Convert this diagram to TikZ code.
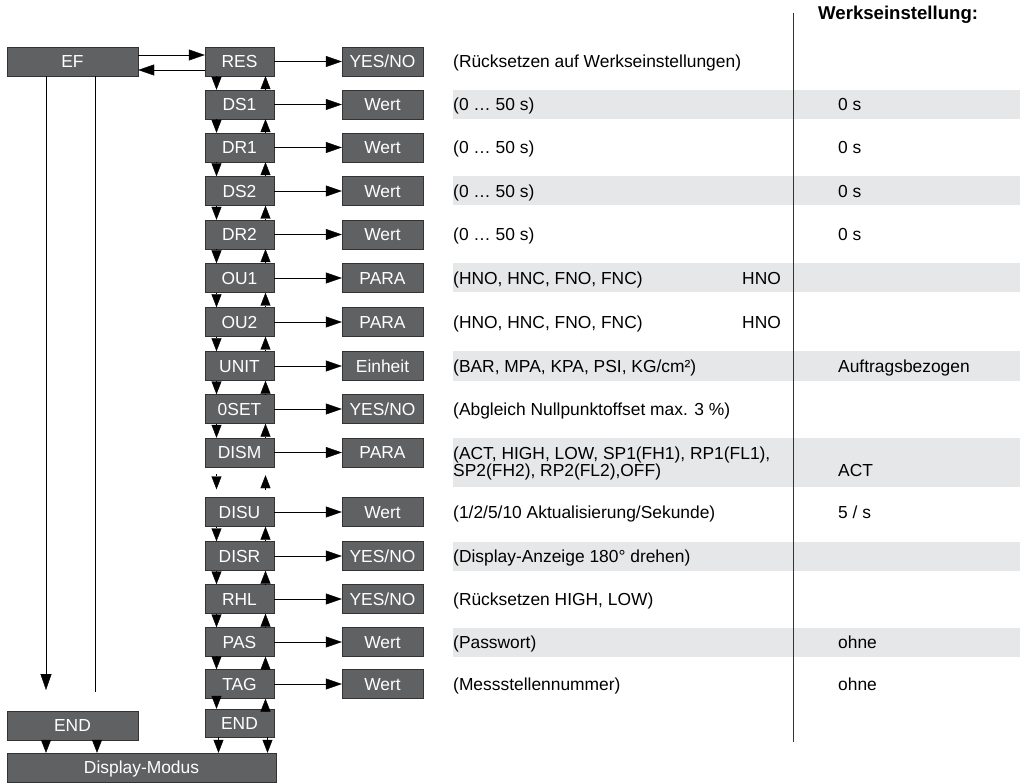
\documentclass[tikz,border=0pt]{standalone}
\usepackage{fontspec}
\setmainfont{Liberation Sans}
\usetikzlibrary{positioning,arrows.meta}
\definecolor{boxgray}{HTML}{606163}
\definecolor{bandgray}{HTML}{E6E7E8}

\begin{document}
\begin{tikzpicture}[x=1pt,y=-1pt,>={Triangle[length=13pt,width=10pt]},
  font=\fontsize{17.4}{16}\selectfont,
  box/.style={draw=black!80,fill=boxgray,text=white,inner sep=0pt,
    minimum height=29pt,text height=12.4pt,text depth=0pt},
  menu/.style={box,minimum width=69pt},
  valbox/.style={box,minimum width=81pt},
  desc/.style={anchor=west,inner sep=0pt,text height=12.4pt,text depth=0pt},
  hor/.style={->,>={Triangle[length=16pt,width=11pt]}}]
\useasboundingbox (0,0) rectangle (1025,783);

% grey bands
\foreach \yy in {104.5,191,278,366,556,642}
  \fill[bandgray] (453,\yy-14.5) rectangle (1020,\yy+14.5);
\fill[bandgray] (453,438) rectangle (1020,487);
\draw[black!80] (793,13) -- (793,742);
\node[anchor=west,inner sep=0pt,font=\fontsize{18.6}{20}\selectfont\bfseries] (head) at (818,15) {Werkseinstellung:};

% menu and value boxes
\node[box,minimum width=131pt] (ef) at (72.5,61.5) {EF};
\foreach \nm/\lab/\yy/\val in {res/RES/61.5/{YES/NO},ds1/DS1/104.5/Wert,dr1/DR1/147.5/Wert,
    ds2/DS2/191/Wert,dr2/DR2/234.5/Wert,ou1/OU1/278/PARA,ou2/OU2/322/PARA,
    unit/UNIT/366/Einheit,oset/0SET/409/{YES/NO},dism/DISM/452.5/PARA,
    disu/DISU/512/Wert,disr/DISR/556/{YES/NO},rhl/RHL/599/{YES/NO},
    pas/PAS/642/Wert,tag/TAG/684/Wert}{
  \node[menu] (\nm) at (239.5,\yy) {\lab};
  \node[valbox] (v-\nm) at (382.5,\yy) {\val};
  \draw[hor] (\nm) -- (v-\nm);
}
\node[menu,minimum height=28pt] (endr) at (239.5,723) {END};
\node[box,minimum width=131pt] (endl) at (72.5,725.5) {END};
\node[box,minimum width=269pt] (disp) at (141.5,767.5) {Display-Modus};

% up and down through the menu
\foreach \a/\b in {res/ds1,ds1/dr1,dr1/ds2,ds2/dr2,dr2/ou1,ou1/ou2,ou2/unit,
    unit/oset,oset/dism,disu/disr,disr/rhl,rhl/pas,pas/tag,tag/endr}{
  \draw[->] ([xshift=-23pt]\a.south) -- ([xshift=-23pt]\b.north);
  \draw[->] ([xshift=26pt]\b.north) -- ([xshift=26pt]\a.south);
}
\draw[->,shorten <=7pt,shorten >=8pt] ([xshift=-23pt]dism.south) -- ([xshift=-23pt]disu.north);
\draw[->,shorten <=7pt,shorten >=8pt] ([xshift=26pt]disu.north) -- ([xshift=26pt]dism.south);
\draw[->] ([xshift=-21pt]endr.south) -- ([xshift=-21pt]endr.south |- disp.north);
\draw[->] ([xshift=28pt]endr.south) -- ([xshift=28pt]endr.south |- disp.north);

% EF links
\draw[hor] ([yshift=6.5pt]ef.east) -- ([yshift=6.5pt]res.west);
\draw[hor] ([yshift=-8.5pt]res.west) -- ([yshift=-8.5pt]ef.east);
\coordinate (efdown) at (46,690);
\coordinate (efback) at (95,692);
\draw[hor] (ef.south -| efdown) -- (efdown);
\draw (efback) -- (ef.south -| efback);
\draw[->] ([xshift=-26.5pt]endl.south) -- ([xshift=-26.5pt]endl.south |- disp.north);
\draw[->] ([xshift=24.5pt]endl.south) -- ([xshift=24.5pt]endl.south |- disp.north);

% descriptions
\node[desc] (d-res) at (453,61.5) {(Rücksetzen auf Werkseinstellungen)};
\node[desc] (d-ds1) at (453,104.5) {(0 … 50 s)};
\node[desc] (d-dr1) at (453,147.5) {(0 … 50 s)};
\node[desc] (d-ds2) at (453,191) {(0 … 50 s)};
\node[desc] (d-dr2) at (453,234.5) {(0 … 50 s)};
\node[desc] (d-ou1) at (453,278) {(HNO, HNC, FNO, FNC)};
\node[desc] (d-ou2) at (453,322) {(HNO, HNC, FNO, FNC)};
\node[desc] (d-unit) at (453,366) {(BAR, MPA, KPA, PSI, KG/cm²)};
\node[desc] (d-oset) at (453,409) {(Abgleich Nullpunktoffset max. 3 \%)};
\node[anchor=base west,inner sep=0pt,align=left] (d-dism) at (453,476.5) {(ACT, HIGH, LOW, SP1(FH1), RP1(FL1),\\SP2(FH2), RP2(FL2),OFF)};
\node[desc] (d-disu) at (453,512) {(1/2/5/10 Aktualisierung/Sekunde)};
\node[desc] (d-disr) at (453,556) {(Display-Anzeige 180° drehen)};
\node[desc] (d-rhl) at (453,599) {(Rücksetzen HIGH, LOW)};
\node[desc] (d-pas) at (453,642) {(Passwort)};
\node[desc] (d-tag) at (453,684) {(Messstellennummer)};

% factory settings
\node[desc] (w-ou1) at (742,278) {HNO};
\node[desc] (w-ou2) at (742,322) {HNO};
\foreach \nm/\yy/\txt in {ds1/104.5/0 s,dr1/147.5/0 s,ds2/191/0 s,dr2/234.5/0 s,
    unit/366/Auftragsbezogen,dism/470/ACT,disu/512/{5 / s},pas/642/ohne,tag/684/ohne}
  \node[desc] (w-\nm) at (838,\yy) {\txt};
\end{tikzpicture}
\end{document}
